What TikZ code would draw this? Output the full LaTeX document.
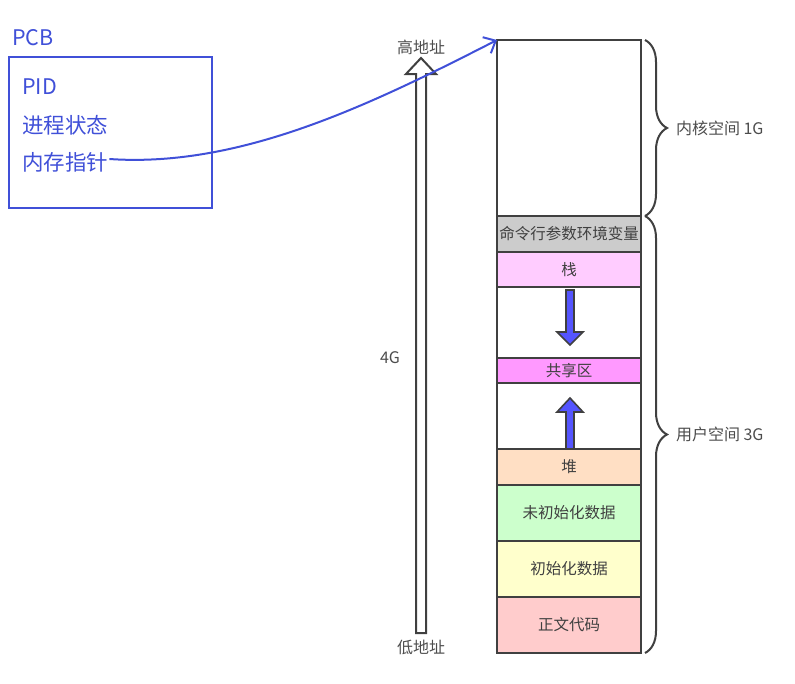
\documentclass[tikz,border=0pt]{standalone}
\usepackage{fontspec}
\setmainfont{Noto Sans CJK SC}
\usetikzlibrary{positioning, arrows.meta, decorations.pathreplacing}

\definecolor{pcbblue}{RGB}{64,80,216}
\definecolor{segline}{RGB}{64,64,64}
\definecolor{cmdgray}{RGB}{204,204,204}
\definecolor{stackpink}{RGB}{255,204,255}
\definecolor{sharedpink}{RGB}{255,153,255}
\definecolor{heappeach}{RGB}{255,223,196}
\definecolor{bssgreen}{RGB}{204,255,204}
\definecolor{datayellow}{RGB}{255,255,204}
\definecolor{textred}{RGB}{255,204,204}
\definecolor{growblue}{RGB}{85,85,255}

\tikzset{
  seg/.style={draw=segline, line width=2pt, minimum width=144pt,
              inner sep=0pt, outer sep=0pt, text=black!75,
              font=\fontsize{15.5}{17}\selectfont},
  pcbtext/.style={text=pcbblue, anchor=west, inner sep=1pt,
                  font=\fontsize{21.5}{23}\selectfont},
  graytext/.style={text=black!70, inner sep=0pt,
                   font=\fontsize{16}{18}\selectfont},
  growarrow/.style={draw=segline, fill=growblue, line width=1.6pt},
  spacebrace/.style={draw=segline, line width=2pt, decorate,
                     decoration={brace, amplitude=22pt}},
}

\begin{document}
\begin{tikzpicture}[x=1pt, y=-1pt]
  \useasboundingbox (0,0) rectangle (795,683);

  % address space column
  \node[seg, minimum height=176pt, anchor=north west] (kern) at (497,40) {};
  \node[seg, fill=cmdgray, minimum height=36pt, below=0pt of kern] (args) {命令行参数环境变量};
  \node[seg, fill=stackpink, minimum height=35pt, below=0pt of args] (stack) {栈};
  \node[seg, minimum height=71pt, below=0pt of stack] (gapa) {};
  \node[seg, fill=sharedpink, minimum height=25pt, below=0pt of gapa] (shared) {共享区};
  \node[seg, minimum height=66pt, below=0pt of shared] (gapb) {};
  \node[seg, fill=heappeach, minimum height=36pt, below=0pt of gapb] (heap) {堆};
  \node[seg, fill=bssgreen, minimum height=56pt, below=0pt of heap] (bss) {未初始化数据};
  \node[seg, fill=datayellow, minimum height=56pt, below=0pt of bss] (data) {初始化数据};
  \node[seg, fill=textred, minimum height=56pt, below=0pt of data] (code) {正文代码};

  % growth arrows
  \draw[growarrow] (566,290) -- (566,332) -- (557,332) -- (570,345)
                   -- (583,332) -- (574,332) -- (574,290) -- cycle;
  \draw[growarrow] (566,449) -- (566,412) -- (557,412) -- (570,398)
                   -- (583,412) -- (574,412) -- (574,449) -- cycle;

  % braces
  \draw[spacebrace] ([xshift=4pt]kern.north east) -- ([xshift=4pt]kern.south east)
    node[graytext, midway, anchor=west, xshift=30pt] (kernlbl) {内核空间 1G};
  \draw[spacebrace] ([xshift=4pt]args.north east) -- ([xshift=4pt]code.south east)
    node[graytext, midway, anchor=west, xshift=30pt] (userlbl) {用户空间 3G};

  % address arrow
  \draw[draw=segline, line width=2pt, fill=white]
    (416,633) -- (416,74) -- (406,74) -- (421,58) -- (436,74)
    -- (426,74) -- (426,633) -- cycle;
  \node[graytext] (high) at (421,47) {高地址};
  \node[graytext] (low) at (421,647) {低地址};
  \node[graytext] (size) at (390,358) {4G};

  % PCB
  \node[pcbtext] (pcbtitle) at (11,38) {PCB};
  \node[draw=pcbblue, line width=2pt, minimum width=203pt, minimum height=151pt,
        anchor=north west, inner sep=0pt] (pcb) at (8,56) {};
  \node[pcbtext] (pid) at (21,87) {PID};
  \node[pcbtext] (state) at (21,125) {进程状态};
  \node[pcbtext] (memptr) at (21,162) {内存指针};
  \draw[pcbblue, line width=2pt, -{Straight Barb[length=10pt, width=18pt]}]
    ([yshift=3pt]memptr.east) .. controls (240,168) and (370,105) .. (kern.north west);
\end{tikzpicture}
\end{document}
